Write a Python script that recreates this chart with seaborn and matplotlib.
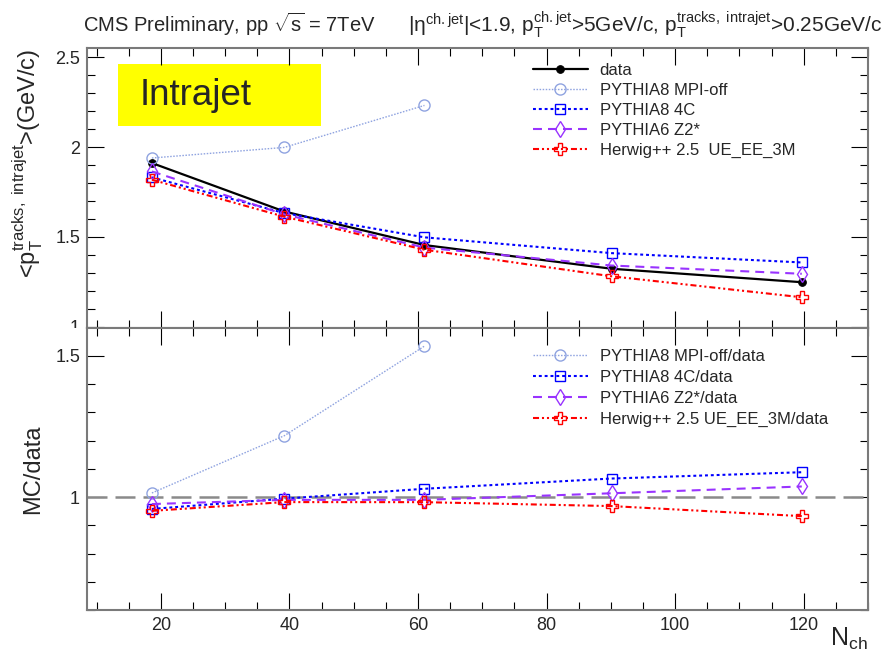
import matplotlib
matplotlib.use("Agg")
import matplotlib.pyplot as plt
from matplotlib.ticker import MultipleLocator, FormatStrFormatter
from matplotlib.patches import Rectangle
from matplotlib.transforms import Bbox, TransformedBbox
import numpy as np
import seaborn as sns

# ---- measured values: mean intrajet track pT vs charged multiplicity ----
nch = [18.6, 39.2, 61.0, 90.1, 119.7]
data_pt = [1.911, 1.641, 1.454, 1.322, 1.247]
mpi_off_pt = [1.939, 1.998, 2.232]          # only first three Nch bins
p8_4c_pt = [1.831, 1.632, 1.497, 1.409, 1.357]
p6_z2_pt = [1.864, 1.625, 1.440, 1.340, 1.294]
herwig_pt = [1.818, 1.612, 1.428, 1.280, 1.163]

top_labels = ["data", "PYTHIA8 MPI-off", "PYTHIA8 4C", "PYTHIA6 Z2*",
              "Herwig++ 2.5  UE_EE_3M"]
ratio_labels = ["PYTHIA8 MPI-off/data", "PYTHIA8 4C/data", "PYTHIA6 Z2*/data",
                "Herwig++ 2.5 UE_EE_3M/data"]

sns.set_style("white")
plt.rcParams["font.family"] = ["Liberation Sans", "DejaVu Sans"]
plt.rcParams["mathtext.fontset"] = "custom"
plt.rcParams["mathtext.rm"] = "Liberation Sans"
plt.rcParams["mathtext.it"] = "Liberation Sans:italic"
plt.rcParams["mathtext.bf"] = "Liberation Sans:bold"
plt.rcParams["mathtext.default"] = "regular"

# styles per generator
styles = {
    "data": dict(color="black", linestyle="-", linewidth=1.6, marker="o",
                 markersize=5.5, markerfacecolor="black", markeredgecolor="black"),
    "mpi": dict(color="#8fa3e0", linestyle=(0, (1.1, 1.1)), linewidth=1.0, marker="o",
                markersize=8, markerfacecolor="none", markeredgecolor="#8fa3e0",
                markeredgewidth=1.0),
    "4c": dict(color="#0000ff", linestyle=(0, (1.4, 1.4)), linewidth=1.5, marker="s",
               markersize=7.5, markerfacecolor="none", markeredgecolor="#0000ff",
               markeredgewidth=1.0),
    "z2": dict(color="#9933ff", linestyle=(0, (4.3, 2.9)), linewidth=1.5, marker="d",
               markersize=8.5, markerfacecolor="none", markeredgecolor="#9933ff",
               markeredgewidth=1.0),
    "hw": dict(color="#ff0000", linestyle=(0, (2.9, 1.4, 1.0, 1.4, 1.0, 1.4)),
               linewidth=1.5, marker="P", markersize=9.0, markerfacecolor="none",
               markeredgecolor="#ff0000", markeredgewidth=1.0),
}

fig = plt.figure(figsize=(8.84, 6.56), dpi=100)
ax1 = fig.add_axes([0.0984, 0.4995, 0.8835, 0.4268])
ax2 = fig.add_axes([0.0984, 0.0701, 0.8835, 0.4294])

# ---- upper panel ----
sns.lineplot(x=nch, y=data_pt, ax=ax1, label=top_labels[0], **styles["data"])
sns.lineplot(x=nch[:len(mpi_off_pt)], y=mpi_off_pt, ax=ax1, label=top_labels[1], **styles["mpi"])
sns.lineplot(x=nch, y=p8_4c_pt, ax=ax1, label=top_labels[2], **styles["4c"])
sns.lineplot(x=nch, y=p6_z2_pt, ax=ax1, label=top_labels[3], **styles["z2"])
sns.lineplot(x=nch, y=herwig_pt, ax=ax1, label=top_labels[4], **styles["hw"])

# ---- ratio panel ----
d = np.array(data_pt)
ax2.axhline(1.0, color="#8a8a8a", linewidth=1.8, linestyle=(0, (8, 3.2)), zorder=1)
sns.lineplot(x=nch[:len(mpi_off_pt)], y=np.array(mpi_off_pt) / d[:len(mpi_off_pt)],
             ax=ax2, label=ratio_labels[0], **styles["mpi"])
sns.lineplot(x=nch, y=np.array(p8_4c_pt) / d, ax=ax2, label=ratio_labels[1], **styles["4c"])
sns.lineplot(x=nch, y=np.array(p6_z2_pt) / d, ax=ax2, label=ratio_labels[2], **styles["z2"])
sns.lineplot(x=nch, y=np.array(herwig_pt) / d, ax=ax2, label=ratio_labels[3], **styles["hw"])

for ax in (ax1, ax2):
    ax.set_xlim(8.5, 130)
    ax.xaxis.set_major_locator(MultipleLocator(20))
    ax.xaxis.set_minor_locator(MultipleLocator(5))
    ax.yaxis.set_minor_locator(MultipleLocator(0.1))
    ax.tick_params(which="both", direction="in", top=True, right=True,
                   bottom=True, left=True,
                   color="black", width=0.8, labelsize=13, pad=5)
    ax.tick_params(which="major", length=12)
    ax.tick_params(which="minor", length=6)
    for sp in ax.spines.values():
        sp.set_color("#7a7a7a")
        sp.set_linewidth(1.5)
    ax.set_facecolor("white")

ax1.set_ylim(0.99, 2.55)
ax1.set_yticks([1.0, 1.5, 2.0, 2.5])
ax1.yaxis.set_major_formatter(FormatStrFormatter("%g"))
ax1.tick_params(labelbottom=False)
ax1.set_xlabel("")
ax1.set_ylabel(r"<$p_T^{tracks,\ intrajet}$>(GeV/c)", fontsize=17, loc="top")

ax2.set_ylim(0.6, 1.598)
ax2.set_yticks([1.0, 1.5])
ax2.yaxis.set_major_formatter(FormatStrFormatter("%g"))
ax2.set_ylabel("MC/data", fontsize=17)
ax2.set_xlabel(r"$N_{ch}$", fontsize=18)

ax1.yaxis.set_label_coords(-0.054, 1.0)
ax2.yaxis.set_label_coords(-0.055, 0.5)
ax2.xaxis.set_label_coords(1.0, -0.055)
ax2.xaxis.label.set_horizontalalignment("right")
ax2.xaxis.label.set_verticalalignment("top")

# legends
leg1 = ax1.legend(loc="upper left", bbox_to_anchor=(0.571, 0.948), frameon=False,
                  fontsize=12, handlelength=3.3, handletextpad=0.7,
                  labelspacing=0.30, borderpad=0, borderaxespad=0)
leg2 = ax2.legend(loc="upper left", bbox_to_anchor=(0.571, 0.926), frameon=False,
                  fontsize=12, handlelength=3.3, handletextpad=0.7,
                  labelspacing=0.36, borderpad=0, borderaxespad=0)

# yellow tag in the upper panel
ax1.add_patch(Rectangle((0.0397, 0.7225), 0.26, 0.2215, transform=ax1.transAxes,
                        facecolor="#ffff00", edgecolor="none", zorder=0.5))
ax1.text(0.068, 0.833, "Intrajet", transform=ax1.transAxes, fontsize=26.5,
         ha="left", va="center", zorder=3)

# header line
fig.text(0.094, 0.963, r"CMS Preliminary, pp $\sqrt{s}$ = 7TeV", fontsize=14.5,
         ha="left", va="center")
fig.text(0.998, 0.963,
         r"|$\eta^{ch.jet}$|<1.9, $p_T^{ch.jet}$>5GeV/c, $p_T^{tracks,\ intrajet}$>0.25GeV/c",
         fontsize=15, ha="right", va="center")

# clip the lowest upper-panel tick label at the panel boundary
fig.canvas.draw()
clip = TransformedBbox(Bbox([[0.0, 0.4995], [1.0, 1.0]]), fig.transFigure)
for lbl in ax1.get_yticklabels():
    lbl.set_clip_box(clip)
    lbl.set_clip_on(True)

fig.savefig("out.png", dpi=100, facecolor="white")
